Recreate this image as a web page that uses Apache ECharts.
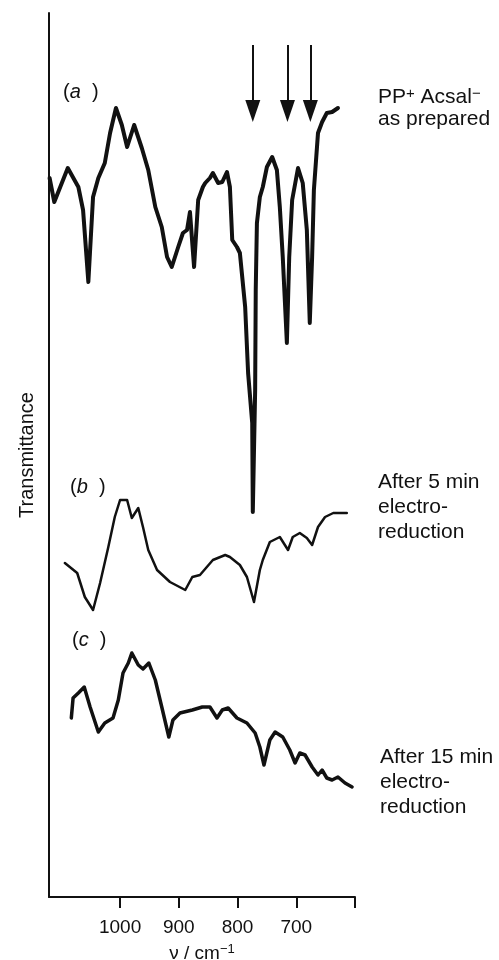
<!DOCTYPE html>
<html>
<head>
<meta charset="utf-8">
<script src="https://cdn.jsdelivr.net/npm/echarts@6.0.0/dist/echarts.min.js"></script>
<style>
  html, body { margin: 0; padding: 0; background: #fff; }
  #chart { width: 499px; height: 960px; }
</style>
</head>
<body>
<div id="chart"></div>
<script>
// wavenumbers (cm-1) and transmittance (arbitrary units, curves offset)
var wnA = [1120, 1112, 1089, 1071, 1063, 1054, 1046, 1037, 1026, 1017, 1007, 997, 988, 976, 963, 952, 940, 929, 920, 912,
  901, 893, 886, 881, 874, 867, 859, 855, 847, 842, 833, 826, 818, 813, 809, 801, 796, 787, 782, 775,
  774, 770, 769, 767, 762, 757, 750, 741, 733, 728, 723, 716, 712, 707, 697, 689, 682, 677, 673, 670,
  663, 656, 648, 639, 629]
var tA = [719, 695, 729, 710, 687, 615, 700, 719, 734, 764, 789, 772, 750, 772, 749, 727, 690, 670, 640, 630,
  650, 664, 667, 685, 630, 697, 710, 714, 719, 724, 714, 715, 725, 710, 657, 650, 644, 590, 524, 474,
  385, 507, 607, 674, 700, 710, 730, 740, 727, 690, 640, 554, 640, 697, 729, 714, 667, 574, 640, 707,
  764, 775, 784, 785, 789]

var wnB = [1094, 1073, 1060, 1046, 1034, 1020, 1009, 1000, 988, 980, 969, 961, 952, 937, 915, 889, 877, 864, 842, 821,
  813, 796, 784, 772, 762, 757, 745, 728, 714, 706, 694, 682, 673, 663, 651, 637, 614]
var tB = [334, 324, 300, 287, 314, 350, 380, 397, 397, 379, 389, 370, 347, 327, 315, 307, 320, 322, 337, 342,
  340, 332, 320, 295, 327, 337, 355, 360, 347, 360, 364, 359, 352, 370, 380, 384, 384]

var wnC = [1083, 1080, 1071, 1061, 1051, 1037, 1026, 1012, 1003, 995, 986, 980, 969, 961, 951, 940, 929, 917, 910, 898,
  877, 860, 847, 835, 826, 816, 801, 784, 770, 762, 755, 745, 736, 723, 711, 702, 694, 685, 673, 663,
  656, 648, 639, 629, 617, 605]
var tC = [179, 199, 204, 210, 190, 165, 174, 179, 197, 224, 234, 244, 232, 228, 234, 217, 190, 160, 177, 184,
  187, 190, 190, 179, 187, 189, 179, 174, 164, 150, 132, 157, 165, 160, 147, 134, 144, 142, 130, 122,
  127, 119, 117, 120, 114, 110]

// arrows marking the three bands in (a): shaft top, shaft end, head centre
var arrowWn = [774, 715, 676]
var arrowTop = 852
var arrowShaftEnd = 795
var arrowHead = 786

var tickValues = [600, 700, 800, 900, 1000]
var labelValues = [700, 800, 900, 1000]

function zip(xs, ys) {
  return xs.map(function (x, i) { return [x, ys[i]] })
}

var font = 'Liberation Sans, Arial, Helvetica, sans-serif'
var ink = '#111'

var chart = echarts.init(document.getElementById('chart'))

var options = {
  backgroundColor: '#fff',
  animation: false,
  grid: { left: 49, right: 144, top: 13, bottom: 63, outerBoundsMode: 'none' },
  xAxis: {
    type: 'value',
    inverse: true,
    min: 600,
    max: 1121,
    splitLine: { show: false },
    axisLine: { onZero: false, lineStyle: { color: ink, width: 2 } },
    axisTick: { show: true, inside: false, length: 11, customValues: tickValues, lineStyle: { color: ink, width: 2 } },
    axisLabel: {
      customValues: labelValues, margin: 21, color: ink, fontFamily: font, fontSize: 19,
      formatter: function (v) { return String(v) }
    },
    name: '{i|ν} / cm{s|−1}',
    nameLocation: 'middle',
    nameGap: 46,
    nameTextStyle: {
      color: ink, fontFamily: font, fontSize: 19,
      rich: {
        i: { fontFamily: font, fontSize: 19, color: ink },
        s: { fontFamily: font, fontSize: 13, color: ink, padding: [0, 0, 8, 0] }
      }
    }
  },
  yAxis: {
    type: 'value',
    min: 0,
    max: 884,
    splitLine: { show: false },
    axisTick: { show: false },
    axisLabel: { show: false },
    axisLine: { lineStyle: { color: ink, width: 2 } },
    name: 'Transmittance',
    nameLocation: 'middle',
    nameRotate: 90,
    nameGap: 12,
    nameTextStyle: { color: ink, fontFamily: font, fontSize: 20 }
  },
  series: [
    {
      type: 'line',
      data: zip(wnA, tA),
      showSymbol: false,
      lineStyle: { color: ink, width: 4, join: 'round', cap: 'round' },
      markLine: {
        silent: true,
        symbol: ['none', 'none'],
        label: { show: false },
        lineStyle: { color: ink, width: 2, type: 'solid' },
        data: arrowWn.map(function (w) {
          return [{ coord: [w, arrowTop] }, { coord: [w, arrowShaftEnd] }]
        })
      },
      markPoint: {
        silent: true,
        symbol: 'path://M0,0 L15,0 L7.5,22 Z',
        symbolSize: [15, 22],
        label: { show: false },
        itemStyle: { color: ink },
        data: arrowWn.map(function (w) {
          return { coord: [w, arrowHead] }
        })
      }
    },
    {
      type: 'line',
      data: zip(wnB, tB),
      showSymbol: false,
      lineStyle: { color: ink, width: 2.5, join: 'round', cap: 'round' }
    },
    {
      type: 'line',
      data: zip(wnC, tC),
      showSymbol: false,
      lineStyle: { color: ink, width: 3.5, join: 'round', cap: 'round' }
    }
  ],
  graphic: [
    {
      type: 'text', x: 63, y: 92,
      style: {
        text: '({i|a}  )', font: '20px ' + font, fill: ink, verticalAlign: 'middle',
        rich: { i: { fontStyle: 'italic', fontSize: 20, fontFamily: font } }
      }
    },
    {
      type: 'text', x: 70, y: 487,
      style: {
        text: '({i|b}  )', font: '20px ' + font, fill: ink, verticalAlign: 'middle',
        rich: { i: { fontStyle: 'italic', fontSize: 20, fontFamily: font } }
      }
    },
    {
      type: 'text', x: 72, y: 640,
      style: {
        text: '({i|c}  )', font: '20px ' + font, fill: ink, verticalAlign: 'middle',
        rich: { i: { fontStyle: 'italic', fontSize: 20, fontFamily: font } }
      }
    },
    {
      type: 'text', x: 378, y: 86,
      style: {
        text: 'PP{s|+} Acsal{s|−}\nas prepared', font: '21px ' + font, fill: ink, lineHeight: 22,
        rich: { s: { fontSize: 15, fontFamily: font, padding: [0, 0, 6, 0], lineHeight: 22 } }
      }
    },
    {
      type: 'text', x: 378, y: 470,
      style: { text: 'After 5 min\nelectro-\nreduction', font: '21px ' + font, fill: ink, lineHeight: 25 }
    },
    {
      type: 'text', x: 380, y: 745,
      style: { text: 'After 15 min\nelectro-\nreduction', font: '21px ' + font, fill: ink, lineHeight: 25 }
    }
  ]
}

chart.setOption(options)
</script>
</body>
</html>
